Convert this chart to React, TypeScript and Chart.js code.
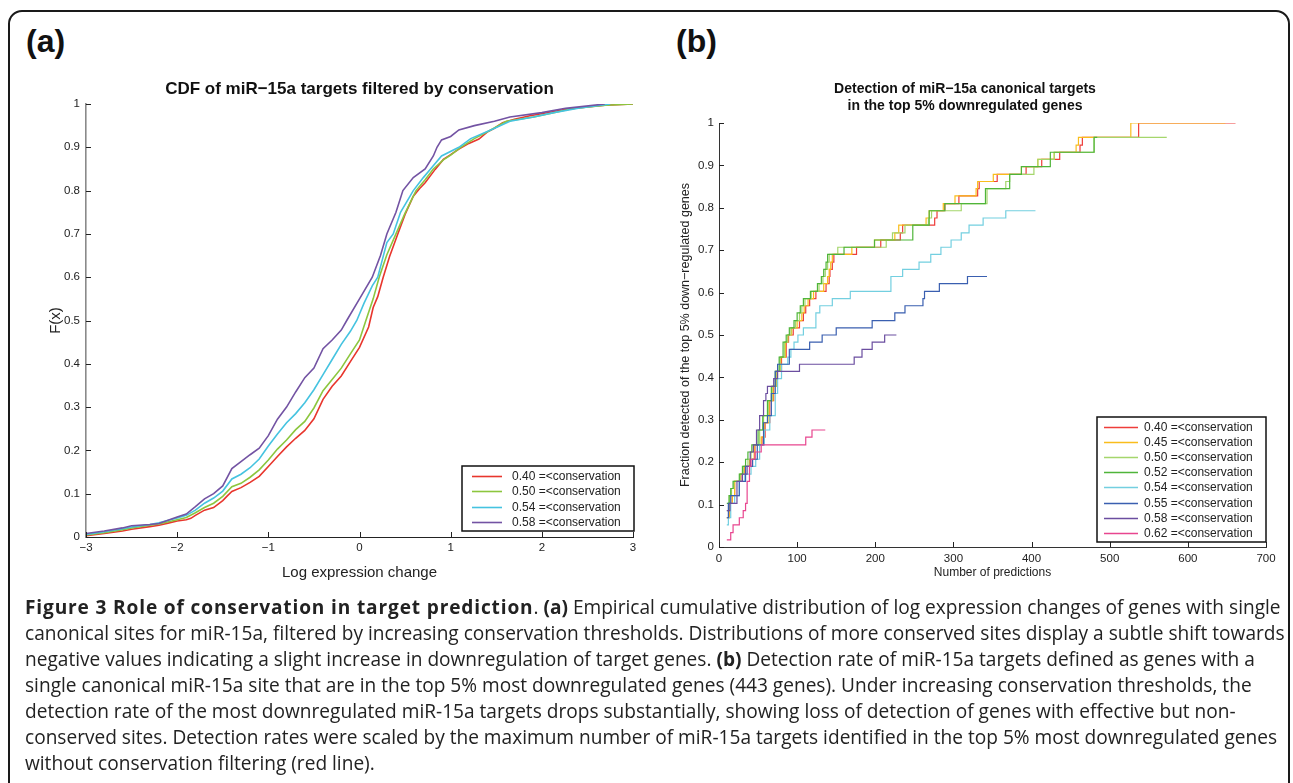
import React, { useEffect, useRef } from "react";
import { Chart, registerables } from "chart.js";

Chart.register(...registerables);

type Pt = [number, number];

const FONT = "'Liberation Sans', Arial, Helvetica, sans-serif";

// ---------- Panel (a): CDF of log expression change ----------
const titleA = "CDF of miR\u221215a targets filtered by conservation";
const xTitleA = "Log expression change";
const yTitleA = "F(x)";
const labelsA = ["0.40 =<conservation", "0.50 =<conservation", "0.54 =<conservation", "0.58 =<conservation"];
const colorsA = ["#e8362d", "#8cc63e", "#45c3e0", "#7353a3"];
const xTicksA = [-3, -2, -1, 0, 1, 2, 3];
const xTickLabelsA = ["\u22123", "\u22122", "\u22121", "0", "1", "2", "3"];
const yTicksA = [0, 0.1, 0.2, 0.3, 0.4, 0.5, 0.6, 0.7, 0.8, 0.9, 1];
const yTickLabelsA = ["0", "0.1", "0.2", "0.3", "0.4", "0.5", "0.6", "0.7", "0.8", "0.9", "1"];

const cdf040: Pt[] = [
  [-3, 0.003], [-2.8, 0.008], [-2.6, 0.014], [-2.5, 0.018], [-2.3, 0.024], [-2.2, 0.027], [-2.1, 0.032],
  [-2.0, 0.037], [-1.9, 0.04], [-1.85, 0.043], [-1.8, 0.05], [-1.7, 0.062], [-1.6, 0.068], [-1.5, 0.084],
  [-1.45, 0.095], [-1.4, 0.105], [-1.3, 0.114], [-1.2, 0.126], [-1.1, 0.14], [-1.0, 0.163], [-0.9, 0.186],
  [-0.8, 0.208], [-0.7, 0.228], [-0.6, 0.246], [-0.5, 0.273], [-0.4, 0.318], [-0.3, 0.348], [-0.2, 0.372],
  [-0.1, 0.405], [0.0, 0.438], [0.1, 0.485], [0.15, 0.53], [0.2, 0.555], [0.26, 0.6], [0.33, 0.648],
  [0.42, 0.7], [0.5, 0.745], [0.59, 0.787], [0.66, 0.805], [0.72, 0.818], [0.83, 0.849], [0.92, 0.872],
  [1.0, 0.883], [1.09, 0.896], [1.2, 0.909], [1.31, 0.919], [1.4, 0.935], [1.48, 0.944], [1.57, 0.957],
  [1.7, 0.965], [1.87, 0.973], [2.09, 0.981], [2.26, 0.988], [2.5, 0.993], [2.69, 0.997], [3.0, 1.0],
];
const cdf050: Pt[] = [
  [-3, 0.005], [-2.8, 0.01], [-2.6, 0.017], [-2.5, 0.021], [-2.3, 0.027], [-2.2, 0.03], [-2.0, 0.04],
  [-1.9, 0.045], [-1.8, 0.056], [-1.7, 0.068], [-1.6, 0.078], [-1.5, 0.094], [-1.4, 0.116], [-1.3, 0.124],
  [-1.2, 0.138], [-1.1, 0.155], [-1.0, 0.178], [-0.9, 0.203], [-0.8, 0.224], [-0.7, 0.248], [-0.6, 0.267],
  [-0.5, 0.298], [-0.4, 0.338], [-0.3, 0.364], [-0.2, 0.39], [-0.1, 0.423], [0.0, 0.455], [0.07, 0.5],
  [0.15, 0.55], [0.216, 0.6], [0.3, 0.652], [0.4, 0.7], [0.5, 0.748], [0.62, 0.8], [0.72, 0.825],
  [0.81, 0.85], [0.92, 0.871], [1.0, 0.882], [1.11, 0.9], [1.26, 0.92], [1.44, 0.94], [1.61, 0.96],
  [1.91, 0.97], [2.13, 0.98], [2.35, 0.99], [2.7, 0.997], [3.0, 1.0],
];
const cdf054: Pt[] = [
  [-3, 0.006], [-2.8, 0.012], [-2.6, 0.019], [-2.5, 0.023], [-2.3, 0.029], [-2.2, 0.033], [-2.0, 0.044],
  [-1.9, 0.05], [-1.8, 0.062], [-1.7, 0.078], [-1.6, 0.09], [-1.5, 0.106], [-1.4, 0.134], [-1.3, 0.145],
  [-1.2, 0.16], [-1.1, 0.18], [-1.0, 0.21], [-0.9, 0.238], [-0.8, 0.264], [-0.7, 0.285], [-0.6, 0.31],
  [-0.5, 0.34], [-0.4, 0.375], [-0.3, 0.41], [-0.2, 0.445], [-0.1, 0.475], [-0.03, 0.5], [0.05, 0.54],
  [0.14, 0.58], [0.2, 0.6], [0.25, 0.64], [0.3, 0.68], [0.37, 0.7], [0.45, 0.75], [0.59, 0.8],
  [0.7, 0.83], [0.8, 0.855], [0.9, 0.88], [1.09, 0.9], [1.22, 0.92], [1.44, 0.94], [1.65, 0.96],
  [1.91, 0.97], [2.13, 0.98], [2.4, 0.99], [2.75, 1.0],
];
const cdf058: Pt[] = [
  [-3, 0.008], [-2.8, 0.014], [-2.6, 0.021], [-2.5, 0.026], [-2.3, 0.029], [-2.2, 0.031], [-2.0, 0.046],
  [-1.9, 0.053], [-1.8, 0.07], [-1.7, 0.088], [-1.6, 0.1], [-1.5, 0.118], [-1.4, 0.158], [-1.3, 0.174],
  [-1.2, 0.19], [-1.1, 0.205], [-1.0, 0.234], [-0.9, 0.272], [-0.8, 0.3], [-0.7, 0.335], [-0.6, 0.368],
  [-0.5, 0.39], [-0.4, 0.435], [-0.3, 0.455], [-0.2, 0.478], [-0.14, 0.5], [0.0, 0.55], [0.14, 0.6],
  [0.23, 0.65], [0.3, 0.7], [0.4, 0.75], [0.476, 0.8], [0.59, 0.83], [0.72, 0.85], [0.81, 0.88],
  [0.85, 0.9], [0.9, 0.917], [1.0, 0.925], [1.09, 0.94], [1.26, 0.95], [1.48, 0.96], [1.65, 0.97],
  [2.0, 0.98], [2.26, 0.99], [2.69, 1.0],
];
const seriesA = [cdf040, cdf050, cdf054, cdf058];

// ---------- Panel (b): detection of canonical targets ----------
const titleB = ["Detection of miR\u221215a canonical targets", "in the top 5% downregulated genes"];
const xTitleB = "Number of predictions";
const yTitleB = "Fraction detected of the top 5% down\u2212regulated genes";
const labelsB = [
  "0.40 =<conservation", "0.45 =<conservation", "0.50 =<conservation", "0.52 =<conservation",
  "0.54 =<conservation", "0.55 =<conservation", "0.58 =<conservation", "0.62 =<conservation",
];
const colorsB = ["#ee3d3a", "#f9bd1c", "#a5d66c", "#4fb53a", "#73cfe0", "#3a5fb0", "#6b4ea0", "#e8468f"];
const xTicksB = [0, 100, 200, 300, 400, 500, 600, 700];
const xTickLabelsB = ["0", "100", "200", "300", "400", "500", "600", "700"];
const yTicksB = [0, 0.1, 0.2, 0.3, 0.4, 0.5, 0.6, 0.7, 0.8, 0.9, 1];
const yTickLabelsB = ["0", "0.1", "0.2", "0.3", "0.4", "0.5", "0.6", "0.7", "0.8", "0.9", "1"];

const det040: Pt[] = [
  [10, 0.069], [13, 0.103], [17, 0.121], [20, 0.155], [28, 0.172], [33, 0.19], [40, 0.207], [46, 0.241],
  [55, 0.259], [59, 0.293], [65, 0.345], [70, 0.379], [74, 0.414], [80, 0.448], [86, 0.483], [89, 0.5],
  [95, 0.517], [103, 0.534], [108, 0.552], [111, 0.569], [116, 0.586], [124, 0.603], [137, 0.621],
  [141, 0.638], [142, 0.655], [145, 0.672], [147, 0.69], [176, 0.707], [207, 0.724], [232, 0.741],
  [235, 0.759], [276, 0.776], [279, 0.793], [289, 0.81], [307, 0.828], [331, 0.845], [333, 0.862],
  [356, 0.879], [393, 0.897], [413, 0.914], [436, 0.931], [462, 0.948], [465, 0.966], [537, 1.0], [661, 1.0],
];
const det045: Pt[] = [
  [10, 0.069], [13, 0.103], [17, 0.121], [20, 0.155], [27, 0.172], [32, 0.19], [39, 0.207], [45, 0.241],
  [54, 0.259], [58, 0.293], [64, 0.345], [69, 0.379], [73, 0.414], [79, 0.448], [85, 0.483], [88, 0.5],
  [93, 0.517], [100, 0.534], [106, 0.552], [109, 0.569], [114, 0.586], [121, 0.603], [134, 0.621],
  [139, 0.638], [141, 0.655], [143, 0.672], [145, 0.69], [170, 0.707], [199, 0.724], [225, 0.741],
  [230, 0.759], [265, 0.776], [269, 0.793], [287, 0.81], [302, 0.828], [329, 0.845], [331, 0.862],
  [351, 0.879], [387, 0.897], [408, 0.914], [429, 0.931], [457, 0.948], [460, 0.966], [527, 1.0], [648, 1.0],
];
const det050: Pt[] = [
  [10, 0.086], [13, 0.121], [16, 0.138], [19, 0.155], [27, 0.172], [31, 0.19], [37, 0.207], [41, 0.224],
  [44, 0.241], [52, 0.276], [57, 0.31], [63, 0.345], [68, 0.379], [73, 0.414], [78, 0.448], [84, 0.483],
  [88, 0.5], [92, 0.517], [98, 0.534], [103, 0.552], [106, 0.569], [110, 0.586], [118, 0.603], [128, 0.621],
  [133, 0.638], [136, 0.655], [139, 0.672], [141, 0.69], [152, 0.707], [214, 0.724], [222, 0.741],
  [238, 0.759], [268, 0.776], [272, 0.793], [310, 0.81], [343, 0.845], [367, 0.862], [372, 0.879],
  [403, 0.897], [408, 0.914], [429, 0.931], [480, 0.966], [573, 0.966],
];
const det052: Pt[] = [
  [10, 0.103], [13, 0.121], [15, 0.138], [18, 0.155], [26, 0.172], [30, 0.19], [34, 0.207], [37, 0.224],
  [42, 0.241], [50, 0.276], [56, 0.31], [62, 0.345], [67, 0.379], [72, 0.414], [77, 0.448], [82, 0.483],
  [86, 0.5], [90, 0.517], [96, 0.534], [100, 0.552], [104, 0.569], [108, 0.586], [117, 0.603], [126, 0.621],
  [131, 0.638], [134, 0.655], [137, 0.672], [139, 0.69], [160, 0.707], [199, 0.724], [248, 0.759],
  [269, 0.793], [289, 0.81], [341, 0.845], [372, 0.879], [387, 0.897], [424, 0.931], [480, 0.966], [484, 0.966],
];
const det054: Pt[] = [
  [10, 0.052], [12, 0.069], [15, 0.103], [20, 0.121], [26, 0.155], [33, 0.172], [41, 0.19], [47, 0.207],
  [52, 0.241], [58, 0.276], [65, 0.31], [72, 0.362], [75, 0.397], [80, 0.431], [88, 0.448], [92, 0.466],
  [96, 0.483], [101, 0.5], [108, 0.517], [124, 0.552], [129, 0.569], [145, 0.586], [168, 0.603],
  [220, 0.638], [235, 0.655], [256, 0.672], [271, 0.69], [284, 0.707], [297, 0.724], [310, 0.741],
  [320, 0.759], [338, 0.776], [367, 0.793], [405, 0.793],
];
const det055: Pt[] = [
  [10, 0.069], [12, 0.103], [15, 0.121], [26, 0.155], [34, 0.19], [43, 0.207], [49, 0.241], [57, 0.293],
  [62, 0.31], [67, 0.362], [72, 0.414], [75, 0.431], [90, 0.466], [116, 0.483], [132, 0.5], [150, 0.517],
  [196, 0.534], [225, 0.552], [238, 0.569], [261, 0.586], [263, 0.603], [282, 0.621], [318, 0.638], [343, 0.638],
];
const det058: Pt[] = [
  [10, 0.086], [14, 0.103], [23, 0.155], [30, 0.172], [36, 0.19], [40, 0.224], [44, 0.241], [48, 0.276],
  [52, 0.31], [57, 0.345], [60, 0.362], [62, 0.379], [70, 0.397], [75, 0.414], [103, 0.431], [173, 0.448],
  [183, 0.466], [196, 0.483], [212, 0.5], [227, 0.5],
];
const det062: Pt[] = [
  [10, 0.017], [15, 0.034], [18, 0.052], [26, 0.069], [31, 0.086], [34, 0.103], [36, 0.155], [39, 0.19],
  [41, 0.207], [46, 0.224], [54, 0.241], [111, 0.259], [119, 0.276], [136, 0.276],
];
const seriesB = [det040, det045, det050, det052, det054, det055, det058, det062];

// ---------- plugins ----------
const inwardTicks = {
  id: "inwardTicks",
  afterDraw(chart: any, _args: any, opts: any) {
    const { ctx, chartArea } = chart;
    const len = opts.length ?? 5;
    ctx.save();
    ctx.lineWidth = 1;
    ctx.strokeStyle = opts.color || "#222";
    const xs = chart.scales.x;
    const ys = chart.scales.y;
    ctx.beginPath();
    xs.ticks.forEach((t: any) => {
      const px = Math.round(xs.getPixelForValue(t.value)) + 0.5;
      ctx.moveTo(px, chartArea.bottom);
      ctx.lineTo(px, chartArea.bottom - len);
    });
    ys.ticks.forEach((t: any) => {
      const py = Math.round(ys.getPixelForValue(t.value)) + 0.5;
      ctx.moveTo(chartArea.left, py);
      ctx.lineTo(chartArea.left + len, py);
    });
    ctx.stroke();
    ctx.restore();
  },
};

const boxLegend = {
  id: "boxLegend",
  afterDraw(chart: any, _args: any, o: any) {
    const { ctx, chartArea } = chart;
    const ds = chart.data.datasets;
    const right = chartArea.right - o.rightGap;
    const bottom = chartArea.bottom - o.bottomGap;
    const left = right - o.width;
    const top = bottom - o.height;
    ctx.save();
    ctx.fillStyle = "#fff";
    ctx.fillRect(left, top, o.width, o.height);
    ctx.strokeStyle = "#111";
    ctx.lineWidth = 1.5;
    ctx.strokeRect(left, top, o.width, o.height);
    ctx.font = o.font;
    ctx.textBaseline = "middle";
    ctx.textAlign = "left";
    ds.forEach((d: any, i: number) => {
      const y = Math.round(top + o.firstRow + i * o.rowH) + 0.5;
      ctx.strokeStyle = d.borderColor;
      ctx.lineWidth = o.lineWidth;
      ctx.beginPath();
      ctx.moveTo(left + o.lineStart, y);
      ctx.lineTo(left + o.lineEnd, y);
      ctx.stroke();
      ctx.fillStyle = "#222";
      ctx.fillText(d.label, left + o.textX, y);
    });
    ctx.restore();
  },
};

function makeScale(opts: any) {
  const { min, max, values, labels, fit, isX, tickSize, tickPad, title, titleSize, titlePad, borderColor, borderWidth } = opts;
  return {
    type: "linear",
    min,
    max,
    afterBuildTicks: (s: any) => {
      s.ticks = values.map((v: number) => ({ value: v }));
    },
    afterFit: (s: any) => {
      if (isX) s.height = fit;
      else s.width = fit;
    },
    grid: { display: true, drawOnChartArea: false, drawTicks: false },
    border: { display: true, color: borderColor, width: borderWidth },
    ticks: {
      autoSkip: false,
      maxRotation: 0,
      padding: tickPad,
      color: "#222",
      font: { family: FONT, size: tickSize },
      callback: (_v: any, i: number) => labels[i],
    },
    title: {
      display: true,
      text: title,
      color: "#222",
      font: { family: FONT, size: titleSize },
      padding: titlePad,
    },
  };
}

const configA: any = {
  type: "line",
  data: {
    datasets: seriesA.map((s, i) => ({
      label: labelsA[i],
      data: s.map(([x, y]) => ({ x, y })),
      borderColor: colorsA[i],
      backgroundColor: colorsA[i],
      borderWidth: 1.6,
      pointRadius: 0,
      tension: 0,
      fill: false,
      order: seriesA.length - i,
    })),
  },
  options: {
    responsive: false,
    animation: false,
    events: [],
    layout: { padding: { left: 0, right: 27, top: 78.8, bottom: 0 } },
    plugins: {
      legend: { display: false },
      tooltip: { enabled: false },
      title: {
        display: true,
        fullSize: false,
        text: titleA,
        color: "#111",
        font: { family: FONT, size: 17, weight: "bold" },
        padding: { top: 0, bottom: 4.8 },
      },
      inwardTicks: { length: 5, color: "#222" },
      boxLegend: {
        width: 172, height: 65, rightGap: -1, bottomGap: 6, firstRow: 10, rowH: 15.3,
        lineStart: 10, lineEnd: 40, textX: 50, lineWidth: 1.6, font: `12px ${FONT}`,
      },
    },
    scales: {
      x: makeScale({
        min: -3, max: 3, values: xTicksA, labels: xTickLabelsA, fit: 63, isX: true, tickSize: 11.5, tickPad: 4,
        title: xTitleA, titleSize: 15, titlePad: { top: 0, bottom: 18 }, borderColor: "#222", borderWidth: 1,
      }),
      y: makeScale({
        min: 0, max: 1, values: yTicksA, labels: yTickLabelsA, fit: 86, isX: false, tickSize: 11.5, tickPad: 6,
        title: yTitleA, titleSize: 15, titlePad: { top: 47, bottom: 0 }, borderColor: "#8a8a8a", borderWidth: 1.6,
      }),
    },
  },
  plugins: [inwardTicks, boxLegend],
};

const configB: any = {
  type: "line",
  data: {
    datasets: seriesB.map((s, i) => ({
      label: labelsB[i],
      data: s.map(([x, y]) => ({ x, y })),
      borderColor: colorsB[i],
      backgroundColor: colorsB[i],
      borderWidth: 1.2,
      pointRadius: 0,
      stepped: true,
      fill: false,
      order: seriesB.length - i,
    })),
  },
  options: {
    responsive: false,
    animation: false,
    events: [],
    layout: { padding: { left: 0, right: 15, top: 80.6, bottom: 0 } },
    plugins: {
      legend: { display: false },
      tooltip: { enabled: false },
      title: {
        display: true,
        fullSize: true,
        text: titleB,
        color: "#111",
        font: { family: FONT, size: 14, weight: "bold", lineHeight: 1.2 },
        padding: { top: 0, bottom: 8.8 },
      },
      inwardTicks: { length: 5, color: "#222" },
      boxLegend: {
        width: 169, height: 125, rightGap: 0, bottomGap: 5, firstRow: 10, rowH: 15.1,
        lineStart: 7, lineEnd: 41, textX: 47, lineWidth: 1.3, font: `12px ${FONT}`,
      },
    },
    scales: {
      x: makeScale({
        min: 0, max: 700, values: xTicksB, labels: xTickLabelsB, fit: 53, isX: true, tickSize: 11.5, tickPad: 5,
        title: xTitleB, titleSize: 12, titlePad: { top: 0, bottom: 19.8 }, borderColor: "#333", borderWidth: 1,
      }),
      y: makeScale({
        min: 0, max: 1, values: yTicksB, labels: yTickLabelsB, fit: 55, isX: false, tickSize: 11.5, tickPad: 5,
        title: yTitleB, titleSize: 12.5, titlePad: { top: 14.5, bottom: 0 }, borderColor: "#333", borderWidth: 1,
      }),
    },
  },
  plugins: [inwardTicks, boxLegend],
};

function ChartBox({ config, left, top, width, height }: any) {
  const ref = useRef<HTMLCanvasElement>(null);
  useEffect(() => {
    const chart = new Chart(ref.current as HTMLCanvasElement, config);
    return () => chart.destroy();
  }, [config]);
  return (
    <canvas
      ref={ref}
      width={width}
      height={height}
      style={{ position: "absolute", left, top, width, height }}
    />
  );
}

const captionLines: React.ReactNode[] = [
  <>
    <b style={{ letterSpacing: "0.85px" }}>Figure 3 Role of conservation in target prediction</b>. <b>(a)</b> Empirical cumulative distribution of log expression changes of genes with single
  </>,
  <>canonical sites for miR-15a, filtered by increasing conservation thresholds. Distributions of more conserved sites display a subtle shift towards</>,
  <>
    negative values indicating a slight increase in downregulation of target genes. <b>(b)</b> Detection rate of miR-15a targets defined as genes with a
  </>,
  <>single canonical miR-15a site that are in the top 5% most downregulated genes (443 genes). Under increasing conservation thresholds, the</>,
  <>detection rate of the most downregulated miR-15a targets drops substantially, showing loss of detection of genes with effective but non-</>,
  <>conserved sites. Detection rates were scaled by the maximum number of miR-15a targets identified in the top 5% most downregulated genes</>,
  <>without conservation filtering (red line).</>,
];

const panelLabelStyle: React.CSSProperties = {
  position: "absolute",
  top: 23,
  fontFamily: FONT,
  fontWeight: "bold",
  fontSize: 32,
  lineHeight: "36px",
  color: "#111",
};

export default function App() {
  return (
    <div
      style={{
        position: "absolute",
        left: 0,
        top: 0,
        width: 1293,
        height: 783,
        overflow: "hidden",
        background: "#fff",
      }}
    >
      <div
        style={{
          position: "absolute",
          left: 8,
          top: 10,
          width: 1282,
          height: 820,
          border: "2px solid #1a1a1a",
          borderRadius: 14,
          boxSizing: "border-box",
        }}
      />
      <div style={{ ...panelLabelStyle, left: 26 }}>(a)</div>
      <div style={{ ...panelLabelStyle, left: 676 }}>(b)</div>
      <ChartBox config={configA} left={0} top={0} width={660} height={600} />
      <ChartBox config={configB} left={664} top={0} width={617} height={600} />
      <div
        style={{
          position: "absolute",
          left: 25,
          top: 594,
          fontFamily: "'Open Sans', sans-serif",
          fontSize: 19.1,
          lineHeight: "26px",
          color: "#222",
          whiteSpace: "nowrap",
        }}
      >
        {captionLines.map((l, i) => (
          <div key={i}>{l}</div>
        ))}
      </div>
    </div>
  );
}
